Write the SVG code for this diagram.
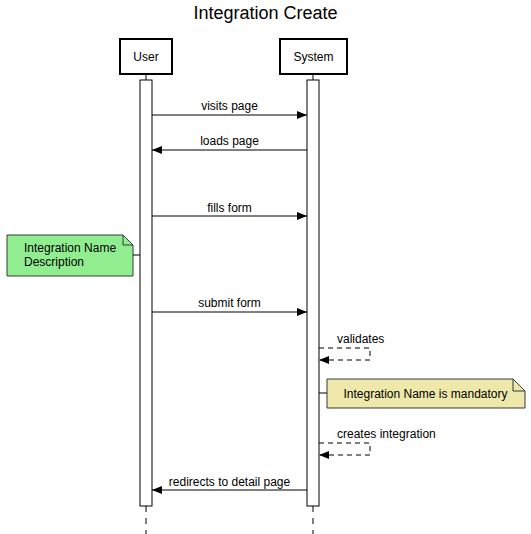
<svg xmlns="http://www.w3.org/2000/svg" width="531" height="534" viewBox="0 0 531 534">
<style>
text{font-family:"Liberation Sans",Arial,Helvetica,sans-serif;fill:#000}
.lbl{font-size:12px;text-anchor:middle}
.t{font-size:12px}
.actor{fill:#fff;stroke:#000;stroke-width:2}
.bar{fill:#fff;stroke:#000;stroke-width:1}
.life{stroke:#000;stroke-width:1;stroke-dasharray:6 6;fill:none}
.msg{stroke:#000;stroke-width:1;fill:none}
.dash{stroke:#000;stroke-width:1;fill:none;stroke-dasharray:5 4}
.note{stroke:#36393d;stroke-width:1}
</style>
<defs>
<marker id="ah" viewBox="0 0 10 10" refX="10" refY="5" markerWidth="10" markerHeight="10" markerUnits="userSpaceOnUse" orient="auto">
<path d="M0,1 L10,5 L0,9 Z" fill="#000"/>
</marker>
</defs>
<rect width="531" height="534" fill="#fff"/>
<text x="265.5" y="19" style="font-size:18px" text-anchor="middle">Integration Create</text>

<g id="user">
<line x1="146" y1="74" x2="146" y2="80" stroke="#000"/>
<line x1="146" y1="506" x2="146" y2="534" class="life"/>
<rect x="120" y="39" width="52" height="35" class="actor"/>
<text x="146" y="60.5" class="lbl">User</text>
<rect x="140" y="80" width="12" height="426" class="bar"/>
</g>

<g id="system">
<line x1="313" y1="74" x2="313" y2="80" stroke="#000"/>
<line x1="313" y1="506" x2="313" y2="534" class="life"/>
<rect x="280" y="39" width="67" height="35" class="actor"/>
<text x="313.5" y="60.5" class="lbl">System</text>
<rect x="307" y="80" width="12" height="426" class="bar"/>
</g>

<g id="note-desc">
<path d="M7,235 H123 L133,245 V276 H7 Z" fill="#90EE90" class="note"/>
<path d="M123,235 V245 H133" fill="none" class="note"/>
<text x="24" y="252" class="t">Integration Name</text>
<text x="24" y="266" class="t">Description</text>
</g>

<g id="note-mandatory">
<path d="M327,379 H513 L525,391 V408 H327 Z" fill="#EEE8AA" class="note"/>
<path d="M513,379 V391 H525" fill="none" class="note"/>
<text x="425.5" y="397.5" class="lbl">Integration Name is mandatory</text>
</g>

<g id="connectors">
<line x1="152" y1="115" x2="307" y2="115" class="msg" marker-end="url(#ah)"/>
<text x="229.5" y="110" class="lbl">visits page</text>
<line x1="307" y1="150" x2="152" y2="150" class="msg" marker-end="url(#ah)"/>
<text x="229.5" y="145" class="lbl">loads page</text>
<line x1="152" y1="216" x2="307" y2="216" class="msg" marker-end="url(#ah)"/>
<text x="229.5" y="212" class="lbl">fills form</text>
<line x1="152" y1="312" x2="307" y2="312" class="msg" marker-end="url(#ah)"/>
<text x="229.5" y="307" class="lbl">submit form</text>
<path d="M319,348 H370 V360 H319" class="dash" marker-end="url(#ah)"/>
<text x="337" y="343" class="t">validates</text>
<line x1="133" y1="255" x2="140" y2="255" class="msg"/>
<line x1="319" y1="393" x2="327" y2="393" class="msg"/>
<path d="M319,443 H370 V455 H319" class="dash" marker-end="url(#ah)"/>
<text x="337" y="438" class="t">creates integration</text>
<line x1="307" y1="490" x2="152" y2="490" class="msg" marker-end="url(#ah)"/>
<text x="229.5" y="486" class="lbl">redirects to detail page</text>
</g>
</svg>
